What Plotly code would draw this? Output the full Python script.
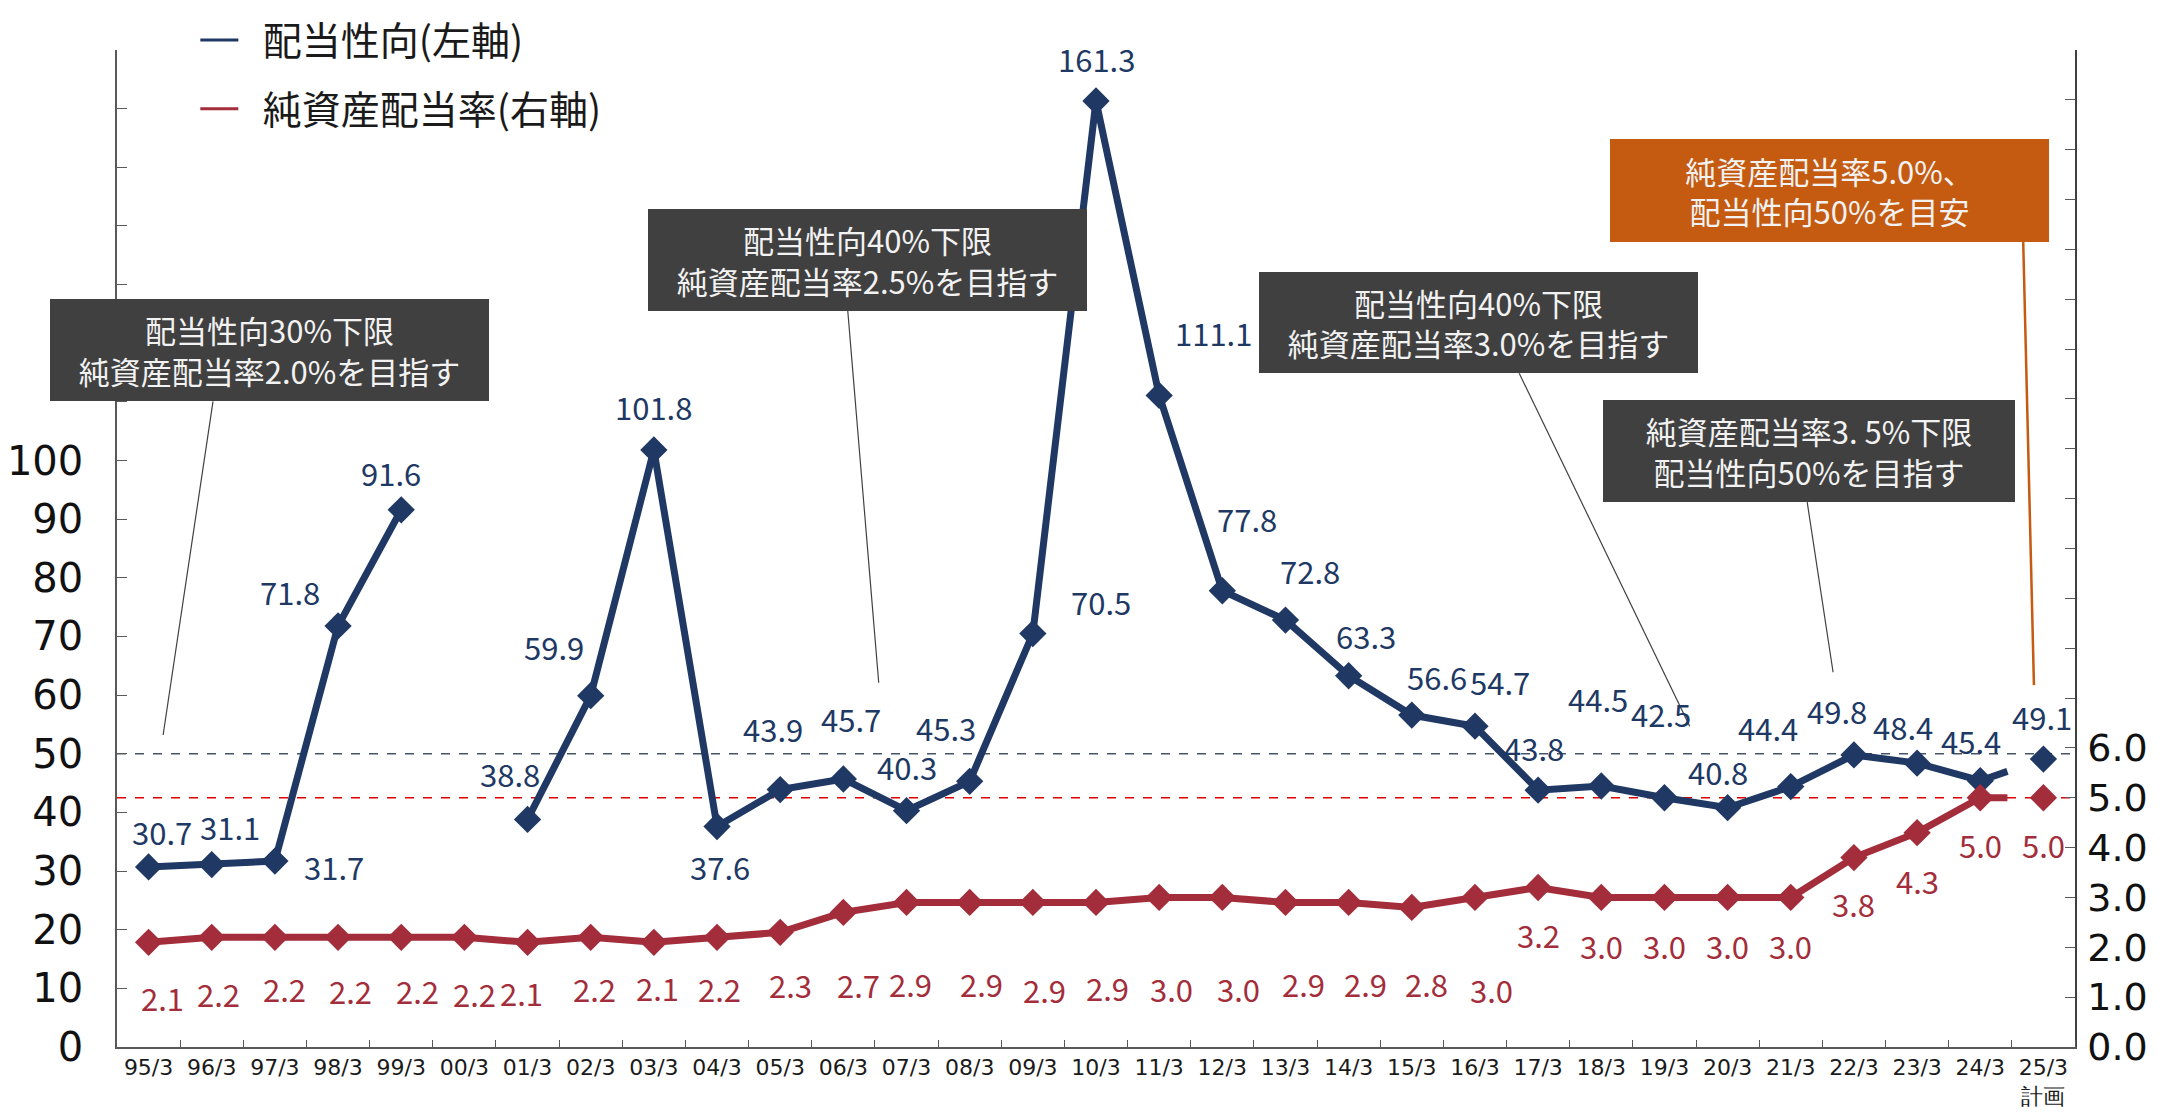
import plotly.graph_objects as go
from plotly.subplots import make_subplots

# categories (fiscal year end) - last one is the plan
categories = ["95/3", "96/3", "97/3", "98/3", "99/3", "00/3", "01/3", "02/3", "03/3", "04/3",
              "05/3", "06/3", "07/3", "08/3", "09/3", "10/3", "11/3", "12/3", "13/3", "14/3",
              "15/3", "16/3", "17/3", "18/3", "19/3", "20/3", "21/3", "22/3", "23/3", "24/3", "25/3"]
tick_labels = categories[:-1] + ["25/3<br>計画"]

# 配当性向 (%), left axis. 00/3 has no value
payout_ratio = [30.7, 31.1, 31.7, 71.8, 91.6, None, 38.8, 59.9, 101.8, 37.6,
                43.9, 45.7, 40.3, 45.3, 70.5, 161.3, 111.1, 77.8, 72.8, 63.3,
                56.6, 54.7, 43.8, 44.5, 42.5, 40.8, 44.4, 49.8, 48.4, 45.4]
payout_plan = 49.1

# 純資産配当率 (%), right axis
doe = [2.1, 2.2, 2.2, 2.2, 2.2, 2.2, 2.1, 2.2, 2.1, 2.2,
       2.3, 2.7, 2.9, 2.9, 2.9, 2.9, 3.0, 3.0, 2.9, 2.9,
       2.8, 3.0, 3.2, 3.0, 3.0, 3.0, 3.0, 3.8, 4.3, 5.0]
doe_plan = 5.0

left_ticks = list(range(0, 171, 10))
left_tick_text = [str(v) if v <= 100 else "" for v in left_ticks]
right_ticks = list(range(0, 21))
right_tick_text = [f"{v:.1f}" if v <= 6 else "" for v in right_ticks]

NAVY = "#203864"
RED = "#A32D3A"
GREY_BOX = "#404040"
ORANGE = "#C55A11"
AXIS = "#595959"

# label offsets in px (dx right, dy down) from each point
payout_label_off = [(13, -35), (18, -38), (59, 5), (-48, -34), (-10, -37), None, (-18, -46), (-37, -49),
                    (0, -43), (3, 40), (-7, -61), (8, -60), (0, -44), (-24, -54), (68, -32), (0, -43),
                    (54, -63), (25, -72), (25, -50), (17, -40), (25, -39), (25, -45), (-4, -43),
                    (-3, -88), (-3, -84), (-10, -36), (-23, -59), (-17, -44), (-14, -37), (-9, -40)]
payout_plan_off = (-1, -43)
doe_label_off = [(14, 55), (7, 56), (10, 51), (12, 53), (16, 53), (10, 56), (-6, 50), (4, 51),
                 (4, 45), (2, 51), (10, 52), (15, 72), (4, 81), (12, 81), (12, 87), (11, 85),
                 (12, 91), (16, 91), (18, 81), (17, 81), (15, 76), (17, 92), (0, 47), (0, 48),
                 (0, 48), (0, 48), (0, 48), (0, 46), (0, 48), (0, 47)]
doe_plan_off = (0, 47)

xs = list(range(len(payout_ratio)))
plan_x = len(categories) - 1
# the actual line runs a short way towards the plan point
stub_frac = 0.43

fig = make_subplots(specs=[[{"secondary_y": True}]])

fig.add_trace(go.Scatter(x=xs, y=payout_ratio, mode="lines+markers", connectgaps=False,
                         line=dict(color=NAVY, width=7), marker=dict(symbol="diamond", size=21, color=NAVY),
                         showlegend=False), secondary_y=False)
fig.add_trace(go.Scatter(x=[xs[-1], xs[-1] + stub_frac],
                         y=[payout_ratio[-1], payout_ratio[-1] + stub_frac * (payout_plan - payout_ratio[-1])],
                         mode="lines", line=dict(color=NAVY, width=7), showlegend=False), secondary_y=False)
fig.add_trace(go.Scatter(x=[plan_x], y=[payout_plan], mode="markers",
                         marker=dict(symbol="diamond", size=21, color=NAVY), showlegend=False),
              secondary_y=False)

fig.add_trace(go.Scatter(x=xs, y=doe, mode="lines+markers",
                         line=dict(color=RED, width=7), marker=dict(symbol="diamond", size=21, color=RED),
                         showlegend=False), secondary_y=True)
fig.add_trace(go.Scatter(x=[xs[-1], xs[-1] + stub_frac],
                         y=[doe[-1], doe[-1] + stub_frac * (doe_plan - doe[-1])],
                         mode="lines", line=dict(color=RED, width=7), showlegend=False), secondary_y=True)
fig.add_trace(go.Scatter(x=[plan_x], y=[doe_plan], mode="markers",
                         marker=dict(symbol="diamond", size=21, color=RED), showlegend=False),
              secondary_y=True)

# legend-only entries (thin lines like the original)
fig.add_trace(go.Scatter(x=[None], y=[None], mode="lines", name="\u2002配当性向(左軸)",
                         line=dict(color=NAVY, width=3), legendgroup="a"), secondary_y=False)
fig.add_trace(go.Scatter(x=[None], y=[None], mode="lines", name="\u2002純資産配当率(右軸)",
                         line=dict(color=RED, width=3), legendgroup="b"), secondary_y=True)

label_font = dict(family="Noto Sans CJK JP", size=31)
annotations = []
for i, v in enumerate(payout_ratio):
    if v is None:
        continue
    dx, dy = payout_label_off[i]
    annotations.append(dict(x=i, y=v, xref="x", yref="y", text=f"{v:.1f}", showarrow=False,
                            xshift=dx, yshift=-dy, font=dict(label_font, color=NAVY)))
annotations.append(dict(x=plan_x, y=payout_plan, xref="x", yref="y", text=f"{payout_plan:.1f}",
                        showarrow=False, xshift=payout_plan_off[0], yshift=-payout_plan_off[1],
                        font=dict(label_font, color=NAVY)))
for i, v in enumerate(doe):
    dx, dy = doe_label_off[i]
    annotations.append(dict(x=i, y=v, xref="x", yref="y2", text=f"{v:.1f}", showarrow=False,
                            xshift=dx, yshift=-dy, font=dict(label_font, color=RED)))
annotations.append(dict(x=plan_x, y=doe_plan, xref="x", yref="y2", text=f"{doe_plan:.1f}",
                        showarrow=False, xshift=doe_plan_off[0], yshift=-doe_plan_off[1],
                        font=dict(label_font, color=RED)))

# policy call-out boxes: (text, center x, center y on left axis, width, height, colour)
boxes = [
    ("配当性向30%下限<br>純資産配当率2.0%を目指す", 1.91, 118.8, 439, 102, GREY_BOX),
    ("配当性向40%下限<br>純資産配当率2.5%を目指す", 11.38, 134.2, 439, 102, GREY_BOX),
    ("配当性向40%下限<br>純資産配当率3.0%を目指す", 21.05, 123.5, 439, 101, GREY_BOX),
    ("純資産配当率3. 5%下限<br>配当性向50%を目指す", 26.29, 101.6, 412, 102, GREY_BOX),
    ("純資産配当率5.0%、<br>配当性向50%を目安", 26.61, 146.0, 439, 103, ORANGE),
]
for text, bx, by, bw, bh, col in boxes:
    annotations.append(dict(x=bx, y=by, xref="x", yref="y", text=text, showarrow=False,
                            width=bw, height=bh, bgcolor=col, borderpad=0, borderwidth=0,
                            align="center", valign="middle",
                            font=dict(family="Noto Sans CJK JP", size=31, color="#F2F2F2")))

# leader lines from boxes to the chart
leaders = [
    ((1.02, 110.1), (0.23, 53.2), GREY_BOX, 1.2),
    ((11.07, 125.5), (11.56, 62.1), GREY_BOX, 1.2),
    ((21.70, 114.9), (24.40, 54.7), GREY_BOX, 1.2),
    ((26.26, 92.9), (26.67, 63.9), GREY_BOX, 1.2),
    ((29.68, 137.3), (29.85, 61.7), ORANGE, 2.5),
]
shapes = []
for (x0, y0), (x1, y1), col, w in leaders:
    shapes.append(dict(type="line", xref="x", yref="y", x0=x0, y0=y0, x1=x1, y1=y1,
                       line=dict(color=col, width=w)))

# reference lines: 配当性向50% and 純資産配当率5.0%
shapes.append(dict(type="line", xref="paper", yref="y", x0=0, x1=1, y0=50, y1=50, layer="below",
                   line=dict(color="#44546A", width=1.5, dash="dash")))
shapes.append(dict(type="line", xref="paper", yref="y2", x0=0, x1=1, y0=doe_plan, y1=doe_plan, layer="below",
                   line=dict(color="#E00000", width=1.5, dash="dash")))

# the html page adds an 8px body margin, so the figure is 8px smaller
fig.update_layout(
    width=2153, height=1111,
    margin=dict(l=109, r=86, t=42, b=72, autoexpand=False),
    plot_bgcolor="white", paper_bgcolor="white",
    font=dict(family="Noto Sans CJK JP", color="#1A1A1A"),
    annotations=annotations,
    shapes=shapes,
    legend=dict(x=0.040, y=1.042, xanchor="left", yanchor="top", traceorder="grouped",
                tracegroupgap=15, font=dict(family="Noto Sans CJK JP", size=39, color="#1A1A1A"),
                bgcolor="rgba(0,0,0,0)", itemwidth=38),
)

fig.update_xaxes(domain=[0, 1], range=[-0.5, 30.5], tickmode="array", tickvals=list(range(len(categories))),
                 ticktext=tick_labels, ticks="", showgrid=False, zeroline=False, automargin=False,
                 showline=True, linecolor=AXIS, linewidth=2,
                 tickfont=dict(family="DejaVu Sans", size=22, color="#1A1A1A"),
                 minor=dict(tickmode="array", tickvals=[i + 0.5 for i in range(len(categories))],
                            ticks="inside", ticklen=7, tickcolor=AXIS, tickwidth=1.2, showgrid=False))
fig.update_yaxes(range=[0, 170], tickmode="array", tickvals=left_ticks, ticktext=left_tick_text,
                 ticks="inside", ticklen=10, tickcolor=AXIS, showgrid=False, zeroline=False,
                 showline=True, linecolor=AXIS, linewidth=1.5, ticklabelstandoff=24, automargin=False,
                 tickfont=dict(family="DejaVu Sans", size=40, color="#111111"), secondary_y=False)
fig.update_yaxes(range=[0, 20], tickmode="array", tickvals=right_ticks, ticktext=right_tick_text,
                 ticks="inside", ticklen=10, tickcolor=AXIS, showgrid=False, zeroline=False,
                 showline=True, linecolor="#404040", linewidth=1.5, ticklabelstandoff=3, automargin=False,
                 tickfont=dict(family="DejaVu Sans", size=38, color="#111111"), secondary_y=True)

fig.write_html("out.html")
